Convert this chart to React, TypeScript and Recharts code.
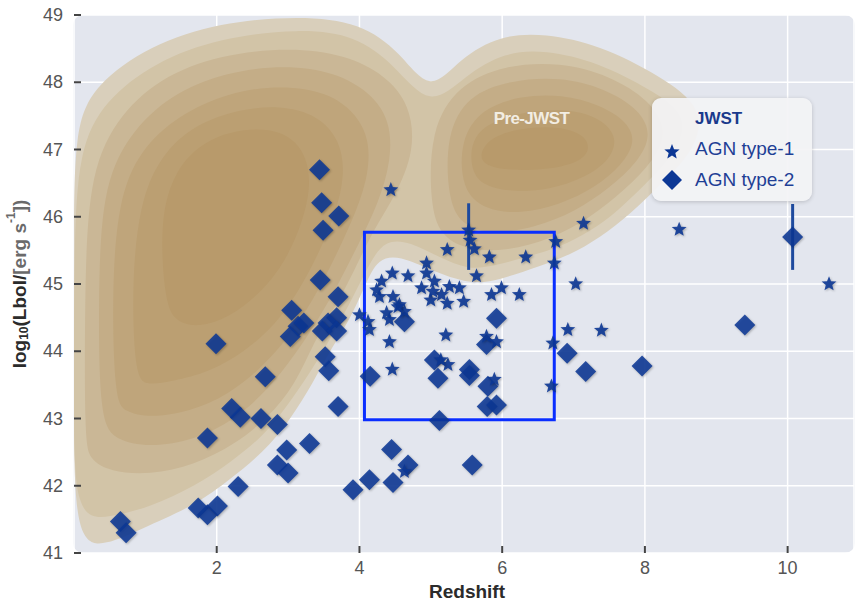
import React from "react";
import { ScatterChart, Scatter, XAxis, YAxis, CartesianGrid, Curve } from "recharts";

const xTicks = [2, 4, 6, 8, 10];
const yTicks = [41, 42, 43, 44, 45, 46, 47, 48, 49];

// JWST AGN type-1 (redshift, log Lbol)
const type1Stars = [
  [4.44, 46.4], [5.53, 45.8], [5.55, 45.65], [5.61, 45.52], [5.23, 45.51], [5.82, 45.4],
  [6.33, 45.4], [6.75, 45.63], [6.73, 45.31], [7.14, 45.9], [8.48, 45.81], [10.58, 45.0],
  [7.03, 45.0], [4.94, 45.31], [4.46, 45.16], [4.68, 45.12], [4.94, 45.16], [5.64, 45.12],
  [5.99, 44.94], [6.24, 44.84], [5.85, 44.84], [4.31, 45.04], [4.24, 44.91], [4.87, 44.94],
  [5.05, 45.04], [5.26, 44.96], [5.4, 44.94], [5.15, 44.84], [5.0, 44.76], [5.23, 44.71],
  [5.46, 44.74], [4.28, 44.81], [4.47, 44.81], [5.03, 44.89], [4.0, 44.54], [4.12, 44.44],
  [4.14, 44.32], [4.38, 44.57], [4.42, 44.47], [4.56, 44.69], [4.63, 44.59], [4.54, 44.66],
  [4.42, 44.14], [4.46, 43.73], [5.21, 44.24], [5.24, 43.8], [5.14, 43.87], [5.78, 44.22],
  [5.92, 44.14], [6.71, 44.12], [6.92, 44.32], [7.39, 44.31], [5.89, 43.58], [6.69, 43.48],
  [4.63, 42.21],
];

// JWST AGN type-2
const type2Diamonds = [
  [3.44, 46.7], [3.47, 46.21], [3.71, 46.01], [3.49, 45.8], [3.45, 45.06], [3.7, 44.81],
  [3.05, 44.61], [3.14, 44.37], [3.03, 44.22], [3.22, 44.42], [3.68, 44.5], [3.56, 44.42],
  [3.48, 44.3], [3.68, 44.3], [1.99, 44.11], [3.52, 43.92], [3.57, 43.71], [2.68, 43.62],
  [3.7, 43.18], [2.21, 43.15], [2.33, 43.02], [2.62, 43.0], [2.85, 42.91], [1.87, 42.71],
  [2.98, 42.53], [3.3, 42.63], [2.85, 42.31], [3.0, 42.19], [2.3, 41.99], [1.74, 41.67],
  [1.87, 41.57], [2.01, 41.7], [3.91, 41.94], [0.65, 41.47], [0.73, 41.3], [4.15, 43.63],
  [4.45, 42.54], [4.68, 42.31], [4.47, 42.05], [4.14, 42.09], [4.63, 44.44], [5.05, 43.87],
  [5.1, 43.6], [5.12, 42.97], [5.54, 43.73], [5.54, 43.64], [5.92, 44.49], [5.78, 44.1],
  [5.8, 43.48], [5.79, 43.18], [5.92, 43.2], [5.58, 42.31], [6.91, 43.97], [7.17, 43.7],
  [7.96, 43.78], [9.4, 44.39], [10.07, 45.7],
];

// [x, y, lower, upper]
const errorSources = [
  [5.53, 45.8, 0.59, 0.4],
  [10.07, 45.7, 0.49, 0.49],
];

const focusBox = [[4.07, 42.98], [6.73, 42.98], [6.73, 45.77], [4.07, 45.77]];
const preJwstSpot = [[6.41, 47.46]];

// Pre-JWST density contours, outer to inner
const level1 = [
  [0, 41.12], [0, 43.28], [0, 45.51], [0, 47.31], [0.29, 47.96], [1.06, 48.55], [2.04, 48.89],
  [3.17, 48.99], [4.01, 48.89], [4.57, 48.45], [4.99, 47.82], [5.41, 48.36], [5.97, 48.7],
  [6.6, 48.73], [7.37, 48.55], [8.21, 48.1], [8.84, 47.61], [8.7, 46.99], [8.28, 46.55],
  [7.79, 46.03], [7.37, 45.69], [6.95, 45.43], [6.53, 45.27], [5.97, 45.06], [5.55, 44.99],
  [4.99, 45.21], [4.57, 45.42], [4.26, 45.39], [4.08, 44.99], [3.87, 44.47], [3.59, 44.02],
  [3.35, 43.53], [3.03, 42.98], [2.65, 42.49], [2.18, 42.09], [1.72, 41.72], [0.92, 41.35],
  [0.46, 41.12],
];
const level2 = [
  [0, 41.5], [0, 43.28], [0, 45.51], [0.06, 46.99], [0.43, 47.73], [1.13, 48.3], [2.04, 48.66],
  [3.17, 48.8], [3.94, 48.7], [4.5, 48.25], [4.99, 47.6], [5.48, 48.1], [6.04, 48.45],
  [6.6, 48.48], [7.34, 48.3], [8.1, 47.88], [8.6, 47.51], [8.46, 46.99], [8.07, 46.55],
  [7.62, 46.08], [7.23, 45.78], [6.81, 45.55], [6.39, 45.42], [5.9, 45.27], [5.52, 45.21],
  [5.13, 45.39], [4.71, 45.63], [4.36, 45.66], [4.15, 45.33], [3.89, 44.76], [3.66, 44.32],
  [3.38, 43.8], [3.05, 43.28], [2.68, 42.76], [2.21, 42.36], [1.69, 41.99], [1.06, 41.68],
  [0.5, 41.53],
];
const level3Left = [
  [0.15, 42.68], [0.15, 44.76], [0.2, 46.55], [0.57, 47.44], [1.2, 48.07], [2.04, 48.41],
  [3.03, 48.52], [3.8, 48.41], [4.36, 48.11], [4.71, 47.67], [4.78, 46.99], [4.5, 46.3],
  [4.2, 45.82], [3.93, 45.2], [3.66, 44.66], [3.36, 44.14], [3.1, 43.5], [2.72, 43.01],
  [2.25, 42.61], [1.69, 42.31], [1.06, 42.16], [0.5, 42.21], [0.22, 42.39],
];
const level3Right = [
  [4.99, 46.18], [4.99, 47.29], [5.38, 47.96], [6.04, 48.26], [6.81, 48.3], [7.51, 48.1],
  [8.07, 47.73], [8.32, 47.29], [8.14, 46.85], [7.72, 46.4], [7.23, 45.98], [6.67, 45.66],
  [6.04, 45.48], [5.48, 45.51], [5.13, 45.73],
];
const level4Left = [
  [0.36, 42.98], [0.34, 44.76], [0.39, 46.4], [0.76, 47.22], [1.34, 47.81], [2.11, 48.15],
  [2.96, 48.26], [3.66, 48.15], [4.15, 47.85], [4.43, 47.44], [4.45, 46.85], [4.26, 46.18],
  [3.98, 45.58], [3.7, 44.99], [3.42, 44.47], [3.1, 43.95], [2.72, 43.43], [2.25, 42.98],
  [1.69, 42.68], [1.06, 42.57], [0.57, 42.68],
];
const level4Right = [
  [5.24, 46.25], [5.21, 47.22], [5.52, 47.81], [6.11, 48.03], [6.81, 48.08], [7.44, 47.91],
  [7.93, 47.59], [8.1, 47.21], [7.9, 46.81], [7.51, 46.43], [7.02, 46.07], [6.46, 45.84],
  [5.83, 45.73], [5.43, 45.88],
];
const level5Left = [
  [0.57, 43.28], [0.53, 44.91], [0.62, 46.25], [0.92, 46.99], [1.46, 47.51], [2.16, 47.85],
  [2.91, 47.96], [3.56, 47.85], [3.94, 47.55], [4.15, 47.14], [4.12, 46.55], [3.89, 45.92],
  [3.63, 45.33], [3.35, 44.76], [3.03, 44.24], [2.63, 43.75], [2.16, 43.35], [1.62, 43.1],
  [1.06, 43.01], [0.71, 43.1],
];
const level5Right = [
  [5.43, 46.4], [5.41, 47.14], [5.71, 47.61], [6.27, 47.8], [6.83, 47.82], [7.37, 47.67],
  [7.76, 47.41], [7.87, 47.11], [7.68, 46.77], [7.3, 46.43], [6.81, 46.18], [6.25, 46.04],
  [5.76, 46.1],
];
const level6Left = [
  [0.85, 43.58], [0.81, 45.06], [0.92, 46.18], [1.18, 46.85], [1.62, 47.33], [2.25, 47.59],
  [2.89, 47.66], [3.42, 47.51], [3.73, 47.14], [3.8, 46.62], [3.66, 46.03], [3.42, 45.43],
  [3.14, 44.88], [2.82, 44.39], [2.39, 43.99], [1.9, 43.69], [1.37, 43.55], [1.04, 43.5],
];
const level6Right = [
  [5.55, 46.72], [5.57, 47.22], [5.97, 47.48], [6.53, 47.59], [7.02, 47.59], [7.41, 47.44],
  [7.62, 47.17], [7.51, 46.84], [7.16, 46.58], [6.67, 46.4], [6.11, 46.37], [5.71, 46.47],
];
const level7Left = [
  [1.27, 44.76], [1.2, 45.95], [1.41, 46.7], [1.83, 47.14], [2.39, 47.32], [2.91, 47.29],
  [3.24, 46.99], [3.33, 46.47], [3.19, 45.88], [2.96, 45.33], [2.63, 44.88], [2.18, 44.5],
  [1.74, 44.35], [1.41, 44.44],
];
const level7Right = [
  [5.66, 46.87], [5.8, 47.17], [6.25, 47.32], [6.81, 47.35], [7.2, 47.2], [7.23, 46.91],
  [6.88, 46.73], [6.25, 46.68], [5.83, 46.73],
];

const contourRings: [number[][], string][] = [
  [level1, "#d9cfbb"],
  [level2, "#d2c4a7"],
  [level3Left, "#cab796"],
  [level3Right, "#cab796"],
  [level4Left, "#c4ad87"],
  [level4Right, "#c4ad87"],
  [level5Left, "#bfa57b"],
  [level5Right, "#bfa57b"],
  [level6Left, "#bb9f72"],
  [level6Right, "#bb9f72"],
  [level7Left, "#b89a6b"],
  [level7Right, "#b89a6b"],
];

const toPts = (arr: number[][]) => arr.map(([x, y]) => ({ x, y }));
const errorSegments = errorSources.map(([x, y, lo, hi]) => [
  { x, y: y - lo },
  { x, y: y + hi },
]);

const FONT = "'Liberation Sans', Arial, Helvetica, sans-serif";
const BLUE = "#0c3795";
const SHADOW = "drop-shadow(1px 1.5px 1px rgba(0,0,0,0.3))";

const starPath = (cx: number, cy: number, R: number, r: number) => {
  let d = "";
  for (let i = 0; i < 10; i++) {
    const a = -Math.PI / 2 + (i * Math.PI) / 5;
    const rad = i % 2 === 0 ? R : r;
    d += (i ? "L" : "M") + (cx + rad * Math.cos(a)).toFixed(2) + "," + (cy + rad * Math.sin(a)).toFixed(2);
  }
  return d + "Z";
};

const diamondPath = (cx: number, cy: number, s: number) =>
  `M${cx},${cy - s}L${cx + s},${cy}L${cx},${cy + s}L${cx - s},${cy}Z`;

const StarShape = (p: any) => (
  <path d={starPath(p.cx, p.cy, 7.8, 3.4)} fill={BLUE} fillOpacity={0.9} style={{ filter: SHADOW }} />
);

const DiamondShape = (p: any) => (
  <path d={diamondPath(p.cx, p.cy, 10.5)} fill={BLUE} fillOpacity={0.87} style={{ filter: SHADOW }} />
);

const Nothing = () => <g />;

const ringFill = (fill: string) => (p: any) => (
  <Curve points={p.points} type="basisClosed" fill={fill} stroke="none" />
);

const boxOutline = (p: any) => (
  <Curve points={p.points} type="linearClosed" fill="none" stroke="#0a2eff" strokeWidth={3} />
);

const errorLine = (p: any) => (
  <Curve points={p.points} type="linear" fill="none" stroke="#1e4a9e" strokeWidth={3} />
);

const YTick = (p: any) => {
  const { x, y, payload } = p;
  return (
    <g>
      <line x1={x + 11} x2={x + 18} y1={y} y2={y} stroke="#444" strokeWidth={2} />
      <text x={x} y={y + 6} textAnchor="end" fill="#555" fontSize={18} fontFamily={FONT}>
        {payload.value}
      </text>
    </g>
  );
};

const XTick = (p: any) => {
  const { x, y, payload } = p;
  return (
    <g>
      <line x1={x} x2={x} y1={y - 15} y2={y - 8} stroke="#444" strokeWidth={2} />
      <text x={x} y={y + 13} textAnchor="middle" fill="#555" fontSize={18} fontFamily={FONT}>
        {payload.value}
      </text>
    </g>
  );
};

const XLabel = (p: any) => {
  const vb = p.viewBox;
  return (
    <text x={vb.x + vb.width / 2 + 3} y={vb.y + 45} textAnchor="middle" fill="#2b2b2b"
      fontSize={19} fontWeight="bold" fontFamily={FONT}>
      Redshift
    </text>
  );
};

const YLabel = (p: any) => {
  const vb = p.viewBox;
  const cx = vb.x + 19;
  const cy = vb.y + vb.height / 2;
  return (
    <text x={cx} y={cy} transform={`rotate(-90 ${cx} ${cy})`} textAnchor="middle"
      dominantBaseline="central" fill="#2b2b2b" fontSize={19} fontWeight="bold" fontFamily={FONT}>
      log<tspan fontSize={12} dy={5}>10</tspan>
      <tspan dy={-5}>(Lbol/</tspan>
      <tspan fill="#6a6a6a">[erg s</tspan>
      <tspan fill="#6a6a6a" fontSize={12} dy={-8}>-1</tspan>
      <tspan fill="#6a6a6a" dy={8}>])</tspan>
    </text>
  );
};

const PreJwstText = (p: any) => (
  <text x={p.cx} y={p.cy} textAnchor="middle" dominantBaseline="central" fill="#f2ede3"
    fontSize={17} fontWeight="bold" letterSpacing={-0.6} fontFamily={FONT}>
    Pre-JWST
  </text>
);

export default function App() {
  return (
    <div style={{ position: "absolute", left: 0, top: 0, width: 856, height: 602, background: "#fff" }}>
      <div style={{ position: "absolute", left: 73, top: 15, width: 782, height: 538, background: "#e3e6ee", borderRadius: 10 }} />
      <div style={{ position: "absolute", left: 0, top: 0 }}>
        <ScatterChart width={856} height={602} margin={{ top: 15, right: 2, bottom: 0, left: 0 }}>
          <CartesianGrid stroke="#ffffff" strokeWidth={1.5} />
          {contourRings.map(([ring, color], i) => (
            <Scatter key={`ring-${i}`} data={toPts(ring)} shape={Nothing} line={ringFill(color)}
              isAnimationActive={false} />
          ))}
          <Scatter data={toPts(preJwstSpot)} shape={PreJwstText} isAnimationActive={false} />
          <Scatter data={toPts(focusBox)} shape={Nothing} line={boxOutline} isAnimationActive={false} />
          {errorSegments.map((seg, i) => (
            <Scatter key={`err-${i}`} data={seg} shape={Nothing} line={errorLine} isAnimationActive={false} />
          ))}
          <Scatter name="AGN type-2" data={toPts(type2Diamonds)} shape={DiamondShape} isAnimationActive={false} />
          <Scatter name="AGN type-1" data={toPts(type1Stars)} shape={StarShape} isAnimationActive={false} />
          <XAxis type="number" dataKey="x" domain={[0, 10.93]} ticks={xTicks} allowDataOverflow
            axisLine={false} tickLine={false} tickSize={0} tickMargin={8} tick={XTick} height={49}
            label={XLabel} />
          <YAxis type="number" dataKey="y" domain={[41, 49]} ticks={yTicks} allowDataOverflow
            axisLine={false} tickLine={false} tickSize={0} tickMargin={11} tick={YTick} width={74}
            label={YLabel} />
        </ScatterChart>
      </div>
      <div style={{ position: "absolute", left: 652, top: 98, width: 160, height: 103, background: "rgba(243,243,245,0.93)",
        borderRadius: 9, boxShadow: "0 1px 4px rgba(0,0,0,0.18)" }}>
        <svg width={160} height={103} style={{ position: "absolute", left: 0, top: 0 }}>
          <text x={43} y={26} fill="#1a3a8c" fontSize={17} fontWeight="bold" fontFamily={FONT}>JWST</text>
          <path d={starPath(20, 54, 8, 3.5)} fill={BLUE} />
          <text x={43} y={57} fill="#1f3f95" fontSize={19} fontFamily={FONT}>AGN type-1</text>
          <path d={diamondPath(20, 82, 10)} fill={BLUE} />
          <text x={43} y={88} fill="#1f3f95" fontSize={19} fontFamily={FONT}>AGN type-2</text>
        </svg>
      </div>
    </div>
  );
}
